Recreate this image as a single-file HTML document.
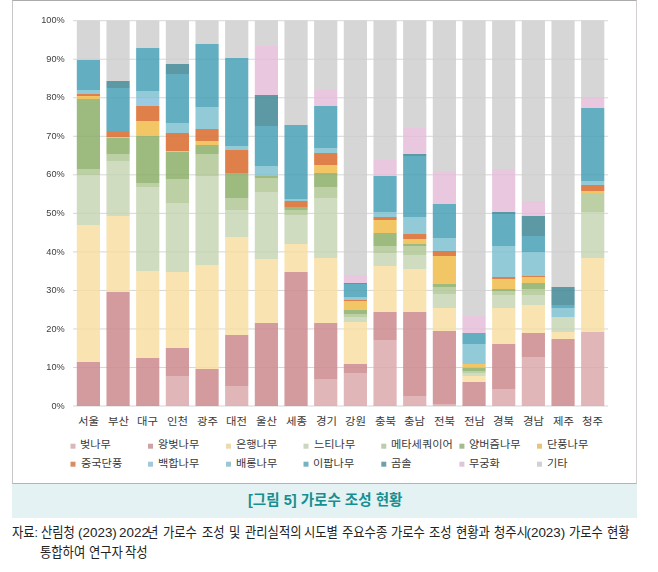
<!DOCTYPE html>
<html lang="ko"><head><meta charset="utf-8"><title>[그림 5] 가로수 조성 현황</title>
<style>
html,body{margin:0;padding:0;background:#fff}
body{width:658px;height:572px;position:relative;overflow:hidden;font-family:"Liberation Sans",sans-serif}
.box{position:absolute;left:12px;top:0;width:623px;height:482px;border:1px solid #c6c6c6;border-top-color:#ababab;border-right-color:#d2ced1;border-bottom-color:#adb7b7;background:#fff}
.cap{position:absolute;left:12px;top:484px;width:625px;height:34.2px;background:#e5f2f3}
svg{position:absolute;left:0;top:0}
.ax{position:absolute;left:20px;width:44.7px;text-align:right;font-size:9.2px;line-height:11px;height:11px;color:#3c3c3c;will-change:transform}
.t{position:absolute;white-space:nowrap;color:#3a3a3a;line-height:1;font-family:"Liberation Sans","Noto Sans CJK KR",sans-serif;transform-origin:0 0}
.t.b{font-weight:bold}
.t.xl{transform:scaleX(1.086)}
.t.lg{transform:scaleX(1.077)}
.t.hd{color:#178f90;transform:scaleX(0.97)}
.t.sr{color:#222222;transform:scaleX(0.918)}
.t.sn{color:#222222}
.tl{margin:0;padding:0}
</style></head><body>
<div class="box"></div>
<div class="cap"></div>
<svg width="658" height="572" viewBox="0 0 658 572">
<defs><linearGradient id="b0" gradientUnits="userSpaceOnUse" x1="0" y1="20.70" x2="0" y2="406.00"><stop offset="0.00000" stop-color="#d6d6d6"/><stop offset="0.10226" stop-color="#d6d6d6"/><stop offset="0.10226" stop-color="#63aec1"/><stop offset="0.17934" stop-color="#63aec1"/><stop offset="0.17934" stop-color="#92cad8"/><stop offset="0.18920" stop-color="#92cad8"/><stop offset="0.18920" stop-color="#df804b"/><stop offset="0.19517" stop-color="#df804b"/><stop offset="0.19517" stop-color="#f2c665"/><stop offset="0.20400" stop-color="#f2c665"/><stop offset="0.20400" stop-color="#9dba7f"/><stop offset="0.38438" stop-color="#9dba7f"/><stop offset="0.38438" stop-color="#bdd0a5"/><stop offset="0.40073" stop-color="#bdd0a5"/><stop offset="0.40073" stop-color="#cfdcc0"/><stop offset="0.52946" stop-color="#cfdcc0"/><stop offset="0.52946" stop-color="#f8e3b1"/><stop offset="0.88580" stop-color="#f8e3b1"/><stop offset="0.88580" stop-color="#d49b9e"/><stop offset="1.00000" stop-color="#d49b9e"/></linearGradient>
<linearGradient id="b1" gradientUnits="userSpaceOnUse" x1="0" y1="20.70" x2="0" y2="406.00"><stop offset="0.00000" stop-color="#d6d6d6"/><stop offset="0.15546" stop-color="#d6d6d6"/><stop offset="0.15546" stop-color="#5d98a5"/><stop offset="0.17441" stop-color="#5d98a5"/><stop offset="0.17441" stop-color="#63aec1"/><stop offset="0.28679" stop-color="#63aec1"/><stop offset="0.28679" stop-color="#df804b"/><stop offset="0.30184" stop-color="#df804b"/><stop offset="0.30184" stop-color="#f2c665"/><stop offset="0.30392" stop-color="#f2c665"/><stop offset="0.30392" stop-color="#9dba7f"/><stop offset="0.34648" stop-color="#9dba7f"/><stop offset="0.34648" stop-color="#bdd0a5"/><stop offset="0.36361" stop-color="#bdd0a5"/><stop offset="0.36361" stop-color="#cfdcc0"/><stop offset="0.50610" stop-color="#cfdcc0"/><stop offset="0.50610" stop-color="#f8e3b1"/><stop offset="0.70335" stop-color="#f8e3b1"/><stop offset="0.70335" stop-color="#d49b9e"/><stop offset="1.00000" stop-color="#d49b9e"/></linearGradient>
<linearGradient id="b2" gradientUnits="userSpaceOnUse" x1="0" y1="20.70" x2="0" y2="406.00"><stop offset="0.00000" stop-color="#d6d6d6"/><stop offset="0.07111" stop-color="#d6d6d6"/><stop offset="0.07111" stop-color="#63aec1"/><stop offset="0.18220" stop-color="#63aec1"/><stop offset="0.18220" stop-color="#92cad8"/><stop offset="0.20114" stop-color="#92cad8"/><stop offset="0.20114" stop-color="#9bcbe2"/><stop offset="0.22191" stop-color="#9bcbe2"/><stop offset="0.22191" stop-color="#df804b"/><stop offset="0.26032" stop-color="#df804b"/><stop offset="0.26032" stop-color="#f2c665"/><stop offset="0.29821" stop-color="#f2c665"/><stop offset="0.29821" stop-color="#9dba7f"/><stop offset="0.42149" stop-color="#9dba7f"/><stop offset="0.42149" stop-color="#bdd0a5"/><stop offset="0.43161" stop-color="#bdd0a5"/><stop offset="0.43161" stop-color="#cfdcc0"/><stop offset="0.64910" stop-color="#cfdcc0"/><stop offset="0.64910" stop-color="#f8e3b1"/><stop offset="0.87490" stop-color="#f8e3b1"/><stop offset="0.87490" stop-color="#d49b9e"/><stop offset="1.00000" stop-color="#d49b9e"/></linearGradient>
<linearGradient id="b3" gradientUnits="userSpaceOnUse" x1="0" y1="20.70" x2="0" y2="406.00"><stop offset="0.00000" stop-color="#d6d6d6"/><stop offset="0.11134" stop-color="#d6d6d6"/><stop offset="0.11134" stop-color="#5d98a5"/><stop offset="0.13781" stop-color="#5d98a5"/><stop offset="0.13781" stop-color="#63aec1"/><stop offset="0.26447" stop-color="#63aec1"/><stop offset="0.26447" stop-color="#92cad8"/><stop offset="0.29198" stop-color="#92cad8"/><stop offset="0.29198" stop-color="#df804b"/><stop offset="0.33766" stop-color="#df804b"/><stop offset="0.33766" stop-color="#f2c665"/><stop offset="0.34181" stop-color="#f2c665"/><stop offset="0.34181" stop-color="#9dba7f"/><stop offset="0.41085" stop-color="#9dba7f"/><stop offset="0.41085" stop-color="#bdd0a5"/><stop offset="0.47314" stop-color="#bdd0a5"/><stop offset="0.47314" stop-color="#cfdcc0"/><stop offset="0.65196" stop-color="#cfdcc0"/><stop offset="0.65196" stop-color="#f8e3b1"/><stop offset="0.84947" stop-color="#f8e3b1"/><stop offset="0.84947" stop-color="#d49b9e"/><stop offset="0.92214" stop-color="#d49b9e"/><stop offset="0.92214" stop-color="#e0b6b9"/><stop offset="1.00000" stop-color="#e0b6b9"/></linearGradient>
<linearGradient id="b4" gradientUnits="userSpaceOnUse" x1="0" y1="20.70" x2="0" y2="406.00"><stop offset="0.00000" stop-color="#d6d6d6"/><stop offset="0.06099" stop-color="#d6d6d6"/><stop offset="0.06099" stop-color="#63aec1"/><stop offset="0.22476" stop-color="#63aec1"/><stop offset="0.22476" stop-color="#92cad8"/><stop offset="0.28056" stop-color="#92cad8"/><stop offset="0.28056" stop-color="#df804b"/><stop offset="0.31145" stop-color="#df804b"/><stop offset="0.31145" stop-color="#f2c665"/><stop offset="0.32287" stop-color="#f2c665"/><stop offset="0.32287" stop-color="#9dba7f"/><stop offset="0.34467" stop-color="#9dba7f"/><stop offset="0.34467" stop-color="#bdd0a5"/><stop offset="0.40384" stop-color="#bdd0a5"/><stop offset="0.40384" stop-color="#cfdcc0"/><stop offset="0.63431" stop-color="#cfdcc0"/><stop offset="0.63431" stop-color="#f8e3b1"/><stop offset="0.90397" stop-color="#f8e3b1"/><stop offset="0.90397" stop-color="#d49b9e"/><stop offset="1.00000" stop-color="#d49b9e"/></linearGradient>
<linearGradient id="b5" gradientUnits="userSpaceOnUse" x1="0" y1="20.70" x2="0" y2="406.00"><stop offset="0.00000" stop-color="#d6d6d6"/><stop offset="0.09655" stop-color="#d6d6d6"/><stop offset="0.09655" stop-color="#63aec1"/><stop offset="0.32520" stop-color="#63aec1"/><stop offset="0.32520" stop-color="#92cad8"/><stop offset="0.33584" stop-color="#92cad8"/><stop offset="0.33584" stop-color="#df804b"/><stop offset="0.39398" stop-color="#df804b"/><stop offset="0.39398" stop-color="#f2c665"/><stop offset="0.39580" stop-color="#f2c665"/><stop offset="0.39580" stop-color="#9dba7f"/><stop offset="0.46120" stop-color="#9dba7f"/><stop offset="0.46120" stop-color="#bdd0a5"/><stop offset="0.49079" stop-color="#bdd0a5"/><stop offset="0.49079" stop-color="#cfdcc0"/><stop offset="0.56164" stop-color="#cfdcc0"/><stop offset="0.56164" stop-color="#f8e3b1"/><stop offset="0.81573" stop-color="#f8e3b1"/><stop offset="0.81573" stop-color="#d49b9e"/><stop offset="0.94705" stop-color="#d49b9e"/><stop offset="0.94705" stop-color="#e0b6b9"/><stop offset="1.00000" stop-color="#e0b6b9"/></linearGradient>
<linearGradient id="b6" gradientUnits="userSpaceOnUse" x1="0" y1="20.70" x2="0" y2="406.00"><stop offset="0.00000" stop-color="#d6d6d6"/><stop offset="0.06514" stop-color="#d6d6d6"/><stop offset="0.06514" stop-color="#e8c7df"/><stop offset="0.19336" stop-color="#e8c7df"/><stop offset="0.19336" stop-color="#5d98a5"/><stop offset="0.27226" stop-color="#5d98a5"/><stop offset="0.27226" stop-color="#63aec1"/><stop offset="0.37711" stop-color="#63aec1"/><stop offset="0.37711" stop-color="#92cad8"/><stop offset="0.40306" stop-color="#92cad8"/><stop offset="0.40306" stop-color="#9dba7f"/><stop offset="0.40825" stop-color="#9dba7f"/><stop offset="0.40825" stop-color="#bdd0a5"/><stop offset="0.44355" stop-color="#bdd0a5"/><stop offset="0.44355" stop-color="#cfdcc0"/><stop offset="0.61770" stop-color="#cfdcc0"/><stop offset="0.61770" stop-color="#f8e3b1"/><stop offset="0.78458" stop-color="#f8e3b1"/><stop offset="0.78458" stop-color="#d49b9e"/><stop offset="1.00000" stop-color="#d49b9e"/></linearGradient>
<linearGradient id="b7" gradientUnits="userSpaceOnUse" x1="0" y1="20.70" x2="0" y2="406.00"><stop offset="0.00000" stop-color="#d6d6d6"/><stop offset="0.27044" stop-color="#d6d6d6"/><stop offset="0.27044" stop-color="#63aec1"/><stop offset="0.46302" stop-color="#63aec1"/><stop offset="0.46302" stop-color="#92cad8"/><stop offset="0.46717" stop-color="#92cad8"/><stop offset="0.46717" stop-color="#df804b"/><stop offset="0.48378" stop-color="#df804b"/><stop offset="0.48378" stop-color="#9dba7f"/><stop offset="0.49260" stop-color="#9dba7f"/><stop offset="0.49260" stop-color="#bdd0a5"/><stop offset="0.50558" stop-color="#bdd0a5"/><stop offset="0.50558" stop-color="#cfdcc0"/><stop offset="0.57955" stop-color="#cfdcc0"/><stop offset="0.57955" stop-color="#f8e3b1"/><stop offset="0.65326" stop-color="#f8e3b1"/><stop offset="0.65326" stop-color="#d49b9e"/><stop offset="1.00000" stop-color="#d49b9e"/></linearGradient>
<linearGradient id="b8" gradientUnits="userSpaceOnUse" x1="0" y1="20.70" x2="0" y2="406.00"><stop offset="0.00000" stop-color="#d6d6d6"/><stop offset="0.18038" stop-color="#d6d6d6"/><stop offset="0.18038" stop-color="#e8c7df"/><stop offset="0.22061" stop-color="#e8c7df"/><stop offset="0.22061" stop-color="#63aec1"/><stop offset="0.32987" stop-color="#63aec1"/><stop offset="0.32987" stop-color="#92cad8"/><stop offset="0.34285" stop-color="#92cad8"/><stop offset="0.34285" stop-color="#df804b"/><stop offset="0.37425" stop-color="#df804b"/><stop offset="0.37425" stop-color="#f2c665"/><stop offset="0.39502" stop-color="#f2c665"/><stop offset="0.39502" stop-color="#9dba7f"/><stop offset="0.43161" stop-color="#9dba7f"/><stop offset="0.43161" stop-color="#bdd0a5"/><stop offset="0.46120" stop-color="#bdd0a5"/><stop offset="0.46120" stop-color="#cfdcc0"/><stop offset="0.61640" stop-color="#cfdcc0"/><stop offset="0.61640" stop-color="#f8e3b1"/><stop offset="0.78458" stop-color="#f8e3b1"/><stop offset="0.78458" stop-color="#d49b9e"/><stop offset="0.93044" stop-color="#d49b9e"/><stop offset="0.93044" stop-color="#e0b6b9"/><stop offset="1.00000" stop-color="#e0b6b9"/></linearGradient>
<linearGradient id="b9" gradientUnits="userSpaceOnUse" x1="0" y1="20.70" x2="0" y2="406.00"><stop offset="0.00000" stop-color="#d6d6d6"/><stop offset="0.66026" stop-color="#d6d6d6"/><stop offset="0.66026" stop-color="#e8c7df"/><stop offset="0.68051" stop-color="#e8c7df"/><stop offset="0.68051" stop-color="#5d98a5"/><stop offset="0.68466" stop-color="#5d98a5"/><stop offset="0.68466" stop-color="#63aec1"/><stop offset="0.71632" stop-color="#63aec1"/><stop offset="0.71632" stop-color="#92cad8"/><stop offset="0.72515" stop-color="#92cad8"/><stop offset="0.72515" stop-color="#df804b"/><stop offset="0.72697" stop-color="#df804b"/><stop offset="0.72697" stop-color="#f2c665"/><stop offset="0.75006" stop-color="#f2c665"/><stop offset="0.75006" stop-color="#9dba7f"/><stop offset="0.76097" stop-color="#9dba7f"/><stop offset="0.76097" stop-color="#bdd0a5"/><stop offset="0.76927" stop-color="#bdd0a5"/><stop offset="0.76927" stop-color="#cfdcc0"/><stop offset="0.78173" stop-color="#cfdcc0"/><stop offset="0.78173" stop-color="#f8e3b1"/><stop offset="0.89099" stop-color="#f8e3b1"/><stop offset="0.89099" stop-color="#d49b9e"/><stop offset="0.91331" stop-color="#d49b9e"/><stop offset="0.91331" stop-color="#e0b6b9"/><stop offset="1.00000" stop-color="#e0b6b9"/></linearGradient>
<linearGradient id="b10" gradientUnits="userSpaceOnUse" x1="0" y1="20.70" x2="0" y2="406.00"><stop offset="0.00000" stop-color="#d6d6d6"/><stop offset="0.36128" stop-color="#d6d6d6"/><stop offset="0.36128" stop-color="#e8c7df"/><stop offset="0.40384" stop-color="#e8c7df"/><stop offset="0.40384" stop-color="#63aec1"/><stop offset="0.49676" stop-color="#63aec1"/><stop offset="0.49676" stop-color="#92cad8"/><stop offset="0.51025" stop-color="#92cad8"/><stop offset="0.51025" stop-color="#df804b"/><stop offset="0.51622" stop-color="#df804b"/><stop offset="0.51622" stop-color="#f2c665"/><stop offset="0.55178" stop-color="#f2c665"/><stop offset="0.55178" stop-color="#9dba7f"/><stop offset="0.58578" stop-color="#9dba7f"/><stop offset="0.58578" stop-color="#bdd0a5"/><stop offset="0.60343" stop-color="#bdd0a5"/><stop offset="0.60343" stop-color="#cfdcc0"/><stop offset="0.63794" stop-color="#cfdcc0"/><stop offset="0.63794" stop-color="#f8e3b1"/><stop offset="0.75552" stop-color="#f8e3b1"/><stop offset="0.75552" stop-color="#d49b9e"/><stop offset="0.82845" stop-color="#d49b9e"/><stop offset="0.82845" stop-color="#e0b6b9"/><stop offset="1.00000" stop-color="#e0b6b9"/></linearGradient>
<linearGradient id="b11" gradientUnits="userSpaceOnUse" x1="0" y1="20.70" x2="0" y2="406.00"><stop offset="0.00000" stop-color="#d6d6d6"/><stop offset="0.27771" stop-color="#d6d6d6"/><stop offset="0.27771" stop-color="#e8c7df"/><stop offset="0.34467" stop-color="#e8c7df"/><stop offset="0.34467" stop-color="#5d98a5"/><stop offset="0.35064" stop-color="#5d98a5"/><stop offset="0.35064" stop-color="#63aec1"/><stop offset="0.50921" stop-color="#63aec1"/><stop offset="0.50921" stop-color="#92cad8"/><stop offset="0.55359" stop-color="#92cad8"/><stop offset="0.55359" stop-color="#df804b"/><stop offset="0.56605" stop-color="#df804b"/><stop offset="0.56605" stop-color="#f2c665"/><stop offset="0.58059" stop-color="#f2c665"/><stop offset="0.58059" stop-color="#9dba7f"/><stop offset="0.58578" stop-color="#9dba7f"/><stop offset="0.58578" stop-color="#bdd0a5"/><stop offset="0.60836" stop-color="#bdd0a5"/><stop offset="0.60836" stop-color="#cfdcc0"/><stop offset="0.64495" stop-color="#cfdcc0"/><stop offset="0.64495" stop-color="#f8e3b1"/><stop offset="0.75552" stop-color="#f8e3b1"/><stop offset="0.75552" stop-color="#d49b9e"/><stop offset="0.97353" stop-color="#d49b9e"/><stop offset="0.97353" stop-color="#e0b6b9"/><stop offset="1.00000" stop-color="#e0b6b9"/></linearGradient>
<linearGradient id="b12" gradientUnits="userSpaceOnUse" x1="0" y1="20.70" x2="0" y2="406.00"><stop offset="0.00000" stop-color="#d6d6d6"/><stop offset="0.38905" stop-color="#d6d6d6"/><stop offset="0.38905" stop-color="#e8c7df"/><stop offset="0.47470" stop-color="#e8c7df"/><stop offset="0.47470" stop-color="#63aec1"/><stop offset="0.56320" stop-color="#63aec1"/><stop offset="0.56320" stop-color="#92cad8"/><stop offset="0.59875" stop-color="#92cad8"/><stop offset="0.59875" stop-color="#df804b"/><stop offset="0.61069" stop-color="#df804b"/><stop offset="0.61069" stop-color="#f2c665"/><stop offset="0.68233" stop-color="#f2c665"/><stop offset="0.68233" stop-color="#9dba7f"/><stop offset="0.69115" stop-color="#9dba7f"/><stop offset="0.69115" stop-color="#bdd0a5"/><stop offset="0.70880" stop-color="#bdd0a5"/><stop offset="0.70880" stop-color="#cfdcc0"/><stop offset="0.74669" stop-color="#cfdcc0"/><stop offset="0.74669" stop-color="#f8e3b1"/><stop offset="0.80638" stop-color="#f8e3b1"/><stop offset="0.80638" stop-color="#d49b9e"/><stop offset="0.99533" stop-color="#d49b9e"/><stop offset="0.99533" stop-color="#e0b6b9"/><stop offset="1.00000" stop-color="#e0b6b9"/></linearGradient>
<linearGradient id="b13" gradientUnits="userSpaceOnUse" x1="0" y1="20.70" x2="0" y2="406.00"><stop offset="0.00000" stop-color="#d6d6d6"/><stop offset="0.76538" stop-color="#d6d6d6"/><stop offset="0.76538" stop-color="#e8c7df"/><stop offset="0.81106" stop-color="#e8c7df"/><stop offset="0.81106" stop-color="#63aec1"/><stop offset="0.83805" stop-color="#63aec1"/><stop offset="0.83805" stop-color="#92cad8"/><stop offset="0.88996" stop-color="#92cad8"/><stop offset="0.88996" stop-color="#f2c665"/><stop offset="0.90189" stop-color="#f2c665"/><stop offset="0.90189" stop-color="#9dba7f"/><stop offset="0.90916" stop-color="#9dba7f"/><stop offset="0.90916" stop-color="#bdd0a5"/><stop offset="0.91383" stop-color="#bdd0a5"/><stop offset="0.91383" stop-color="#cfdcc0"/><stop offset="0.92162" stop-color="#cfdcc0"/><stop offset="0.92162" stop-color="#f8e3b1"/><stop offset="0.93667" stop-color="#f8e3b1"/><stop offset="0.93667" stop-color="#d49b9e"/><stop offset="1.00000" stop-color="#d49b9e"/></linearGradient>
<linearGradient id="b14" gradientUnits="userSpaceOnUse" x1="0" y1="20.70" x2="0" y2="406.00"><stop offset="0.00000" stop-color="#d6d6d6"/><stop offset="0.38593" stop-color="#d6d6d6"/><stop offset="0.38593" stop-color="#e8c7df"/><stop offset="0.49676" stop-color="#e8c7df"/><stop offset="0.49676" stop-color="#5d98a5"/><stop offset="0.50143" stop-color="#5d98a5"/><stop offset="0.50143" stop-color="#63aec1"/><stop offset="0.58474" stop-color="#63aec1"/><stop offset="0.58474" stop-color="#92cad8"/><stop offset="0.66572" stop-color="#92cad8"/><stop offset="0.66572" stop-color="#df804b"/><stop offset="0.67142" stop-color="#df804b"/><stop offset="0.67142" stop-color="#f2c665"/><stop offset="0.69686" stop-color="#f2c665"/><stop offset="0.69686" stop-color="#9dba7f"/><stop offset="0.70101" stop-color="#9dba7f"/><stop offset="0.70101" stop-color="#bdd0a5"/><stop offset="0.71113" stop-color="#bdd0a5"/><stop offset="0.71113" stop-color="#cfdcc0"/><stop offset="0.74539" stop-color="#cfdcc0"/><stop offset="0.74539" stop-color="#f8e3b1"/><stop offset="0.83909" stop-color="#f8e3b1"/><stop offset="0.83909" stop-color="#d49b9e"/><stop offset="0.95588" stop-color="#d49b9e"/><stop offset="0.95588" stop-color="#e0b6b9"/><stop offset="1.00000" stop-color="#e0b6b9"/></linearGradient>
<linearGradient id="b15" gradientUnits="userSpaceOnUse" x1="0" y1="20.70" x2="0" y2="406.00"><stop offset="0.00000" stop-color="#d6d6d6"/><stop offset="0.46899" stop-color="#d6d6d6"/><stop offset="0.46899" stop-color="#e8c7df"/><stop offset="0.50610" stop-color="#e8c7df"/><stop offset="0.50610" stop-color="#5d98a5"/><stop offset="0.55930" stop-color="#5d98a5"/><stop offset="0.55930" stop-color="#63aec1"/><stop offset="0.60057" stop-color="#63aec1"/><stop offset="0.60057" stop-color="#92cad8"/><stop offset="0.66156" stop-color="#92cad8"/><stop offset="0.66156" stop-color="#df804b"/><stop offset="0.66572" stop-color="#df804b"/><stop offset="0.66572" stop-color="#f2c665"/><stop offset="0.68155" stop-color="#f2c665"/><stop offset="0.68155" stop-color="#9dba7f"/><stop offset="0.69634" stop-color="#9dba7f"/><stop offset="0.69634" stop-color="#bdd0a5"/><stop offset="0.71295" stop-color="#bdd0a5"/><stop offset="0.71295" stop-color="#cfdcc0"/><stop offset="0.73657" stop-color="#cfdcc0"/><stop offset="0.73657" stop-color="#f8e3b1"/><stop offset="0.81054" stop-color="#f8e3b1"/><stop offset="0.81054" stop-color="#d49b9e"/><stop offset="0.87231" stop-color="#d49b9e"/><stop offset="0.87231" stop-color="#e0b6b9"/><stop offset="1.00000" stop-color="#e0b6b9"/></linearGradient>
<linearGradient id="b16" gradientUnits="userSpaceOnUse" x1="0" y1="20.70" x2="0" y2="406.00"><stop offset="0.00000" stop-color="#d6d6d6"/><stop offset="0.69115" stop-color="#d6d6d6"/><stop offset="0.69115" stop-color="#5d98a5"/><stop offset="0.73839" stop-color="#5d98a5"/><stop offset="0.73839" stop-color="#63aec1"/><stop offset="0.74539" stop-color="#63aec1"/><stop offset="0.74539" stop-color="#92cad8"/><stop offset="0.76927" stop-color="#92cad8"/><stop offset="0.76927" stop-color="#cfdcc0"/><stop offset="0.80768" stop-color="#cfdcc0"/><stop offset="0.80768" stop-color="#f8e3b1"/><stop offset="0.82715" stop-color="#f8e3b1"/><stop offset="0.82715" stop-color="#d49b9e"/><stop offset="1.00000" stop-color="#d49b9e"/></linearGradient>
<linearGradient id="b17" gradientUnits="userSpaceOnUse" x1="0" y1="20.70" x2="0" y2="406.00"><stop offset="0.00000" stop-color="#d6d6d6"/><stop offset="0.19933" stop-color="#d6d6d6"/><stop offset="0.19933" stop-color="#e8c7df"/><stop offset="0.22787" stop-color="#e8c7df"/><stop offset="0.22787" stop-color="#63aec1"/><stop offset="0.41552" stop-color="#63aec1"/><stop offset="0.41552" stop-color="#92cad8"/><stop offset="0.42564" stop-color="#92cad8"/><stop offset="0.42564" stop-color="#df804b"/><stop offset="0.44096" stop-color="#df804b"/><stop offset="0.44096" stop-color="#f2c665"/><stop offset="0.44692" stop-color="#f2c665"/><stop offset="0.44692" stop-color="#bdd0a5"/><stop offset="0.49727" stop-color="#bdd0a5"/><stop offset="0.49727" stop-color="#cfdcc0"/><stop offset="0.61536" stop-color="#cfdcc0"/><stop offset="0.61536" stop-color="#f8e3b1"/><stop offset="0.80768" stop-color="#f8e3b1"/><stop offset="0.80768" stop-color="#e0b6b9"/><stop offset="1.00000" stop-color="#e0b6b9"/></linearGradient></defs>
<rect x="73" y="20.20" width="535" height="1" fill="#dedede"/>
<rect x="73" y="58.73" width="535" height="1" fill="#dedede"/>
<rect x="73" y="97.26" width="535" height="1" fill="#dedede"/>
<rect x="73" y="135.79" width="535" height="1" fill="#dedede"/>
<rect x="73" y="174.32" width="535" height="1" fill="#dedede"/>
<rect x="73" y="212.85" width="535" height="1" fill="#dedede"/>
<rect x="73" y="251.38" width="535" height="1" fill="#dedede"/>
<rect x="73" y="289.91" width="535" height="1" fill="#dedede"/>
<rect x="73" y="328.44" width="535" height="1" fill="#dedede"/>
<rect x="73" y="366.97" width="535" height="1" fill="#dedede"/>
<rect x="73" y="405.50" width="535" height="1" fill="#dedede"/>
<rect x="76.80" y="20.70" width="23.20" height="385.30" fill="url(#b0)"/>
<rect x="106.47" y="20.70" width="23.20" height="385.30" fill="url(#b1)"/>
<rect x="136.13" y="20.70" width="23.20" height="385.30" fill="url(#b2)"/>
<rect x="165.80" y="20.70" width="23.20" height="385.30" fill="url(#b3)"/>
<rect x="195.46" y="20.70" width="23.20" height="385.30" fill="url(#b4)"/>
<rect x="225.12" y="20.70" width="23.20" height="385.30" fill="url(#b5)"/>
<rect x="254.79" y="20.70" width="23.20" height="385.30" fill="url(#b6)"/>
<rect x="284.45" y="20.70" width="23.20" height="385.30" fill="url(#b7)"/>
<rect x="314.12" y="20.70" width="23.20" height="385.30" fill="url(#b8)"/>
<rect x="343.79" y="20.70" width="23.20" height="385.30" fill="url(#b9)"/>
<rect x="373.45" y="20.70" width="23.20" height="385.30" fill="url(#b10)"/>
<rect x="403.12" y="20.70" width="23.20" height="385.30" fill="url(#b11)"/>
<rect x="432.78" y="20.70" width="23.20" height="385.30" fill="url(#b12)"/>
<rect x="462.44" y="20.70" width="23.20" height="385.30" fill="url(#b13)"/>
<rect x="492.11" y="20.70" width="23.20" height="385.30" fill="url(#b14)"/>
<rect x="521.77" y="20.70" width="23.20" height="385.30" fill="url(#b15)"/>
<rect x="551.44" y="20.70" width="23.20" height="385.30" fill="url(#b16)"/>
<rect x="581.11" y="20.70" width="23.20" height="385.30" fill="url(#b17)"/>
<rect x="73" y="20.20" width="535" height="1" fill="#000" fill-opacity="0.03"/>
<rect x="73" y="58.73" width="535" height="1" fill="#000" fill-opacity="0.03"/>
<rect x="73" y="97.26" width="535" height="1" fill="#000" fill-opacity="0.03"/>
<rect x="73" y="135.79" width="535" height="1" fill="#000" fill-opacity="0.03"/>
<rect x="73" y="174.32" width="535" height="1" fill="#000" fill-opacity="0.03"/>
<rect x="73" y="212.85" width="535" height="1" fill="#000" fill-opacity="0.03"/>
<rect x="73" y="251.38" width="535" height="1" fill="#000" fill-opacity="0.03"/>
<rect x="73" y="289.91" width="535" height="1" fill="#000" fill-opacity="0.03"/>
<rect x="73" y="328.44" width="535" height="1" fill="#000" fill-opacity="0.03"/>
<rect x="73" y="366.97" width="535" height="1" fill="#000" fill-opacity="0.03"/>
<rect x="73" y="405.50" width="535" height="1" fill="#000" fill-opacity="0.03"/>
<rect x="70.5" y="443.7" width="5" height="5" fill="#d9b8ba"/>
<rect x="148.0" y="443.7" width="5" height="5" fill="#cfa3a5"/>
<rect x="226.0" y="443.7" width="5" height="5" fill="#ebdbb4"/>
<rect x="303.5" y="443.7" width="5" height="5" fill="#cbd5c0"/>
<rect x="381.3" y="443.7" width="5" height="5" fill="#bdccaa"/>
<rect x="459.4" y="443.7" width="5" height="5" fill="#a4bb8d"/>
<rect x="537.0" y="443.7" width="5" height="5" fill="#e7c479"/>
<rect x="70.5" y="461.7" width="5" height="5" fill="#d88e64"/>
<rect x="148.0" y="461.7" width="5" height="5" fill="#a3c8da"/>
<rect x="226.0" y="461.7" width="5" height="5" fill="#9cc7d2"/>
<rect x="303.5" y="461.7" width="5" height="5" fill="#77b2c0"/>
<rect x="381.3" y="461.7" width="5" height="5" fill="#72a0aa"/>
<rect x="459.4" y="461.7" width="5" height="5" fill="#dfc5d8"/>
<rect x="537.0" y="461.7" width="5" height="5" fill="#d1d1d1"/>
</svg>
<div class="ax" style="top:15.3px">100%</div>
<div class="ax" style="top:53.8px">90%</div>
<div class="ax" style="top:92.4px">80%</div>
<div class="ax" style="top:130.9px">70%</div>
<div class="ax" style="top:169.4px">60%</div>
<div class="ax" style="top:207.9px">50%</div>
<div class="ax" style="top:246.5px">40%</div>
<div class="ax" style="top:285.0px">30%</div>
<div class="ax" style="top:323.5px">20%</div>
<div class="ax" style="top:362.1px">10%</div>
<div class="ax" style="top:400.6px">0%</div>
<div class="tl" aria-label="시도">
<span class="t xl" style="left:78.0px;top:415.9px;font-size:10.5px">서울</span>
<span class="t xl" style="left:107.5px;top:415.9px;font-size:10.5px">부산</span>
<span class="t xl" style="left:137.1px;top:415.9px;font-size:10.5px">대구</span>
<span class="t xl" style="left:167.1px;top:415.9px;font-size:10.5px">인천</span>
<span class="t xl" style="left:196.6px;top:415.9px;font-size:10.5px">광주</span>
<span class="t xl" style="left:226.3px;top:415.9px;font-size:10.5px">대전</span>
<span class="t xl" style="left:255.8px;top:415.9px;font-size:10.5px">울산</span>
<span class="t xl" style="left:285.7px;top:415.9px;font-size:10.5px">세종</span>
<span class="t xl" style="left:315.6px;top:415.9px;font-size:10.5px">경기</span>
<span class="t xl" style="left:345.2px;top:415.9px;font-size:10.5px">강원</span>
<span class="t xl" style="left:374.6px;top:415.9px;font-size:10.5px">충북</span>
<span class="t xl" style="left:404.1px;top:415.9px;font-size:10.5px">충남</span>
<span class="t xl" style="left:433.9px;top:415.9px;font-size:10.5px">전북</span>
<span class="t xl" style="left:463.5px;top:415.9px;font-size:10.5px">전남</span>
<span class="t xl" style="left:493.2px;top:415.9px;font-size:10.5px">경북</span>
<span class="t xl" style="left:522.7px;top:415.9px;font-size:10.5px">경남</span>
<span class="t xl" style="left:552.6px;top:415.9px;font-size:10.5px">제주</span>
<span class="t xl" style="left:582.2px;top:415.9px;font-size:10.5px">청주</span>
</div>
<div class="tl" aria-label="범례">
<span class="t lg" style="left:80.0px;top:440.4px;font-size:10.4px">벚나무</span>
<span class="t lg" style="left:158.0px;top:440.4px;font-size:10.4px">왕벚나무</span>
<span class="t lg" style="left:236.0px;top:440.4px;font-size:10.4px">은행나무</span>
<span class="t lg" style="left:313.5px;top:440.4px;font-size:10.4px">느티나무</span>
<span class="t lg" style="left:390.9px;top:440.4px;font-size:10.4px">메타세쿼이어</span>
<span class="t lg" style="left:469.3px;top:440.4px;font-size:10.4px">양버즘나무</span>
<span class="t lg" style="left:546.6px;top:440.4px;font-size:10.4px">단풍나무</span>
<span class="t lg" style="left:80.5px;top:458.8px;font-size:10.4px">중국단풍</span>
<span class="t lg" style="left:157.6px;top:458.8px;font-size:10.4px">백합나무</span>
<span class="t lg" style="left:235.6px;top:458.8px;font-size:10.4px">배롱나무</span>
<span class="t lg" style="left:313.1px;top:458.8px;font-size:10.4px">이팝나무</span>
<span class="t lg" style="left:391.3px;top:458.8px;font-size:10.4px">곰솔</span>
<span class="t lg" style="left:469.4px;top:458.8px;font-size:10.4px">무궁화</span>
<span class="t lg" style="left:546.9px;top:458.8px;font-size:10.4px">기타</span>
</div>
<div class="tl" role="heading">
<span class="t b hd" style="left:248.1px;top:491.7px;font-size:15.0px">[그림 5] 가로수 조성 현황</span>
</div>
<p class="tl">
<span class="t sr" style="left:11.6px;top:526.3px;font-size:13.4px">자료:</span>
<span class="t sr" style="left:41.0px;top:526.3px;font-size:13.4px">산림청</span>
<span class="t sn" style="left:78.1px;top:526.3px;font-size:13.4px">(2023)</span>
<span class="t sn" style="left:119.1px;top:526.3px;font-size:13.4px">2022</span>
<span class="t sr" style="left:147.1px;top:526.3px;font-size:13.4px">년</span>
<span class="t sr" style="left:163.3px;top:526.3px;font-size:13.4px">가로수</span>
<span class="t sr" style="left:202.3px;top:526.3px;font-size:13.4px">조성</span>
<span class="t sr" style="left:229.3px;top:526.3px;font-size:13.4px">및</span>
<span class="t sr" style="left:245.0px;top:526.3px;font-size:13.4px">관리실적의</span>
<span class="t sr" style="left:304.4px;top:526.3px;font-size:13.4px">시도별</span>
<span class="t sr" style="left:342.0px;top:526.3px;font-size:13.4px">주요수종</span>
<span class="t sr" style="left:391.1px;top:526.3px;font-size:13.4px">가로수</span>
<span class="t sr" style="left:428.8px;top:526.3px;font-size:13.4px">조성</span>
<span class="t sr" style="left:456.1px;top:526.3px;font-size:13.4px">현황과</span>
<span class="t sr" style="left:493.5px;top:526.3px;font-size:13.4px">청주시</span>
<span class="t sn" style="left:526.5px;top:526.3px;font-size:13.4px">(2023)</span>
<span class="t sr" style="left:569.2px;top:526.3px;font-size:13.4px">가로수</span>
<span class="t sr" style="left:607.1px;top:526.3px;font-size:13.4px">현황</span>
<span class="t sr" style="left:40.3px;top:546.0px;font-size:13.4px">통합하여</span>
<span class="t sr" style="left:88.5px;top:546.0px;font-size:13.4px">연구자</span>
<span class="t sr" style="left:125.0px;top:546.0px;font-size:13.4px">작성</span>
</p>
</body></html>
